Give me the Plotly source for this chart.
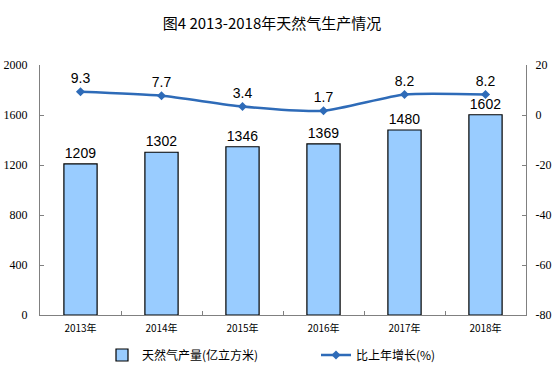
import plotly.graph_objects as go

years = ["2013年", "2014年", "2015年", "2016年", "2017年", "2018年"]
output = [1209, 1302, 1346, 1369, 1480, 1602]
growth = [9.3, 7.7, 3.4, 1.7, 8.2, 8.2]
left_ticks = [0, 400, 800, 1200, 1600, 2000]
right_ticks = [-80, -60, -40, -20, 0, 20]

fig = go.Figure()
fig.add_trace(go.Bar(
    x=years, y=output, name="天然气产量(亿立方米)",
    marker=dict(color="#99CCFF", line=dict(color="#000000", width=1.2)),
    width=0.41,
    text=[str(v) for v in output], textposition="outside",
    textfont=dict(family="Liberation Sans, Arial", size=14, color="#000"),
    cliponaxis=False, legend="legend",
))
fig.add_trace(go.Scatter(
    x=years, y=growth, name="比上年增长(%)", yaxis="y2",
    mode="lines+markers+text",
    line=dict(color="#2E6BB8", width=2.5, shape="spline", smoothing=0.6),
    marker=dict(symbol="diamond", size=7, color="#2E6BB8"),
    text=[f"{v:.1f}" for v in growth], textposition="top center",
    textfont=dict(family="Liberation Sans, Arial", size=14, color="#000"),
    cliponaxis=False, legend="legend2",
))

axis_font = dict(family="Liberation Serif, Times New Roman", size=12, color="#000")
fig.update_layout(
    width=558, height=384,
    margin=dict(l=40, r=32, t=65, b=69, autoexpand=False),
    paper_bgcolor="white", plot_bgcolor="white",
    title=dict(text="图4 2013-2018年天然气生产情况", x=272/558, xanchor="center",
               y=1 - 24/384, yanchor="middle", xref="container",
               font=dict(family="Noto Sans CJK SC", size=15, color="#000", weight=400)),
    xaxis=dict(showline=True, linecolor="#808080", linewidth=1, automargin=False,
               ticks="inside", ticklen=4, tickcolor="#808080", tickson="boundaries",
               tickfont=dict(family="Noto Sans CJK SC", size=10, color="#000"),
               ticklabelstandoff=4, showgrid=False),
    yaxis=dict(range=[0, 2000], tickvals=left_ticks, ticktext=[str(v) for v in left_ticks],
               showline=True, linecolor="#808080",
               linewidth=1, ticks="inside", ticklen=4, tickcolor="#808080", automargin=False,
               tickfont=axis_font, ticklabelstandoff=9,
               showgrid=False, zeroline=False),
    yaxis2=dict(range=[-80, 20], tickvals=right_ticks, ticktext=[str(v) for v in right_ticks],
                overlaying="y", side="right",
                showline=True, linecolor="#808080", linewidth=1, ticks="inside",
                ticklen=4, tickcolor="#808080", automargin=False, ticklabelstandoff=6,
                tickfont=axis_font,
                showgrid=False, zeroline=False),
    legend=dict(orientation="h", x=102/558, xanchor="left", xref="container",
                y=1 - 355/384, yanchor="middle", yref="container",
                font=dict(family="Noto Sans CJK SC", size=12, color="#000"),
                itemwidth=30, bgcolor="rgba(0,0,0,0)"),
    legend2=dict(orientation="h", x=316/558, xanchor="left", xref="container",
                 y=1 - 355/384, yanchor="middle", yref="container",
                 font=dict(family="Noto Sans CJK SC", size=12, color="#000"),
                 itemwidth=30, bgcolor="rgba(0,0,0,0)"),
    showlegend=True,
)
fig.write_html("out.html", config={"displayModeBar": False},
               post_script="document.body.style.margin='0';")
